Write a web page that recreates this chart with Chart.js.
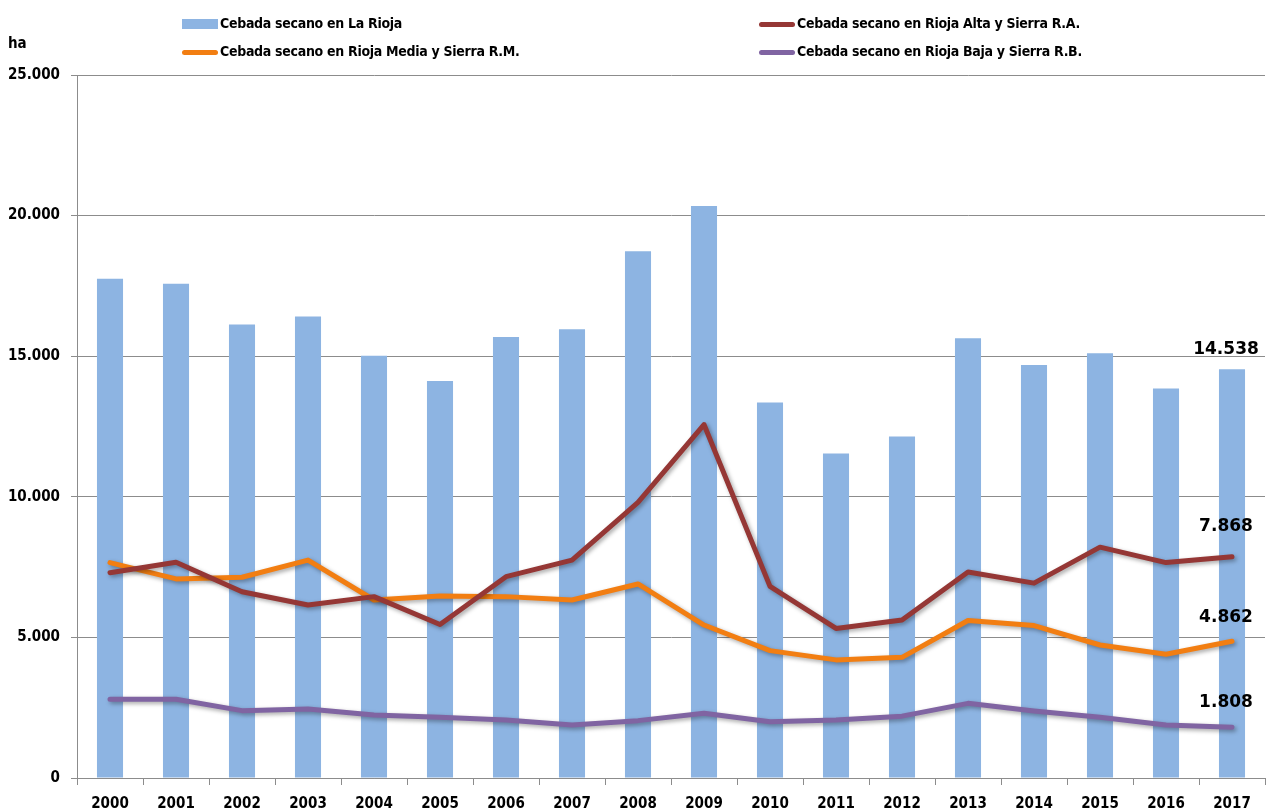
<!DOCTYPE html>
<html lang="es">
<head>
  <meta charset="UTF-8" />
  <title>Cebada secano en La Rioja</title>
  <script src="https://cdn.jsdelivr.net/npm/chart.js"></script>
  <style>
    body {
      margin: 0;
      background: #fff;
      font-family: "Liberation Sans Narrow", "Arial Narrow", "DejaVu Sans Condensed", sans-serif;
    }
    #wrap {
      position: relative;
      width: 1274px;
      height: 809px;
    }
    .leg {
      position: absolute;
      font-weight: bold;
      font-size: 14px;
      letter-spacing: -0.3px;
      color: #000;
      white-space: nowrap;
      line-height: 16px;
    }
    .leg span {
      display: inline-block;
      width: 36px;
      vertical-align: middle;
      margin-right: 2px;
    }
    #unit {
      position: absolute;
      left: 8px;
      top: 34px;
      font-weight: bold;
      font-size: 15px;
    }
  </style>
</head>
<body>
  <div id="wrap">
    <canvas id="chart" width="1274" height="809"></canvas>
    <div id="unit">ha</div>
    <div class="leg" style="left:182px; top:15px"><span style="height:10px; background:#8DB4E2"></span>Cebada secano en La Rioja</div>
    <div class="leg" style="left:759px; top:15px"><span style="height:5px; border-radius:3px; background:#953735"></span>Cebada secano en Rioja Alta y Sierra R.A.</div>
    <div class="leg" style="left:182px; top:43px"><span style="height:5px; border-radius:3px; background:#F27E12"></span>Cebada secano en Rioja Media y Sierra R.M.</div>
    <div class="leg" style="left:759px; top:43px"><span style="height:5px; border-radius:3px; background:#8064A2"></span>Cebada secano en Rioja Baja y Sierra R.B.</div>
  </div>

  <script>
    const years = ["2000", "2001", "2002", "2003", "2004", "2005", "2006", "2007", "2008",
                   "2009", "2010", "2011", "2012", "2013", "2014", "2015", "2016", "2017"];

    // superficie total (barras)
    const laRioja = [17750, 17575, 16130, 16410, 15020, 14120, 15680, 15960, 18730,
                     20340, 13350, 11540, 12145, 15640, 14690, 15105, 13850, 14538];
    const riojaAlta = [7300, 7670, 6625, 6150, 6450, 5460, 7160, 7750, 9800,
                       12570, 6815, 5320, 5620, 7325, 6930, 8210, 7660, 7868];
    const riojaMedia = [7660, 7080, 7140, 7750, 6330, 6470, 6450, 6330, 6900,
                        5440, 4530, 4200, 4290, 5600, 5420, 4730, 4400, 4862];
    const riojaBaja = [2800, 2800, 2395, 2455, 2240, 2160, 2060, 1885, 2040,
                       2300, 2000, 2060, 2200, 2655, 2385, 2160, 1885, 1808];

    const yTicks = [0, 5000, 10000, 15000, 20000, 25000];

    function miles(v) {
      return String(v).replace(/\B(?=(\d{3})+(?!\d))/g, ".");
    }

    const fontFam = '"Liberation Sans Narrow", "Arial Narrow", "DejaVu Sans Condensed", sans-serif';

    // sombra suave bajo las líneas, como en Excel
    const shadowPlugin = {
      id: "shadow",
      beforeDatasetDraw(chart, args) {
        if (chart.data.datasets[args.index].type !== "line") return;
        const ctx = chart.ctx;
        ctx.save();
        ctx.shadowColor = "rgba(0,0,0,0.35)";
        ctx.shadowBlur = 4;
        ctx.shadowOffsetX = 2;
        ctx.shadowOffsetY = 2;
      },
      afterDatasetDraw(chart, args) {
        if (chart.data.datasets[args.index].type !== "line") return;
        chart.ctx.restore();
      }
    };

    // valores del último año
    const lastLabels = {
      id: "lastLabels",
      afterDatasetsDraw(chart) {
        const ctx = chart.ctx;
        const offsets = [20, 30, 24, 25];
        ctx.save();
        ctx.font = 'bold 17px "DejaVu Sans", sans-serif';
        ctx.fillStyle = "#000";
        ctx.textAlign = "center";
        ctx.textBaseline = "middle";
        chart.data.datasets.forEach((ds, i) => {
          const meta = chart.getDatasetMeta(i);
          const el = meta.data[meta.data.length - 1];
          const v = ds.data[ds.data.length - 1];
          ctx.fillText(miles(v), el.x - 6, el.y - offsets[i]);
        });
        ctx.restore();
      }
    };

    const lineStyle = {
      type: "line",
      borderWidth: 5,
      pointRadius: 0,
      tension: 0,
      borderJoinStyle: "round",
      borderCapStyle: "round",
      order: 1
    };

    new Chart(document.getElementById("chart"), {
      type: "bar",
      data: {
        labels: years,
        datasets: [
          {
            type: "bar",
            label: "Cebada secano en La Rioja",
            data: laRioja,
            backgroundColor: "#8DB4E2",
            categoryPercentage: 1,
            barPercentage: 0.395,
            order: 2
          },
          Object.assign({
            label: "Cebada secano en Rioja Alta y Sierra R.A.",
            data: riojaAlta,
            borderColor: "#953735"
          }, lineStyle),
          Object.assign({
            label: "Cebada secano en Rioja Media y Sierra R.M.",
            data: riojaMedia,
            borderColor: "#F27E12"
          }, lineStyle),
          Object.assign({
            label: "Cebada secano en Rioja Baja y Sierra R.B.",
            data: riojaBaja,
            borderColor: "#8064A2"
          }, lineStyle)
        ]
      },
      options: {
        responsive: false,
        animation: false,
        layout: { padding: { top: 75, right: 9, left: 0, bottom: 0 } },
        plugins: {
          legend: { display: false },
          tooltip: { enabled: false }
        },
        scales: {
          x: {
            offset: true,
            grid: {
              offset: true,
              drawOnChartArea: false,
              drawTicks: true,
              tickLength: 7,
              color: "#8C8C8C"
            },
            border: { color: "#8C8C8C" },
            ticks: {
              color: "#000",
              padding: 10,
              font: { family: fontFam, weight: "bold", size: 15 }
            },
            afterFit(scale) { scale.height = 31; }
          },
          y: {
            min: 0,
            max: 25000,
            afterBuildTicks(scale) {
              scale.ticks = yTicks.map(v => ({ value: v }));
            },
            grid: {
              color: "#8C8C8C",
              tickLength: 6
            },
            border: { color: "#8C8C8C" },
            ticks: {
              color: "#000",
              padding: 11,
              font: { family: fontFam, weight: "bold", size: 15 },
              callback: v => miles(v)
            },
            afterFit(scale) { scale.width = 77; }
          }
        }
      },
      plugins: [shadowPlugin, lastLabels]
    });
  </script>
</body>
</html>
